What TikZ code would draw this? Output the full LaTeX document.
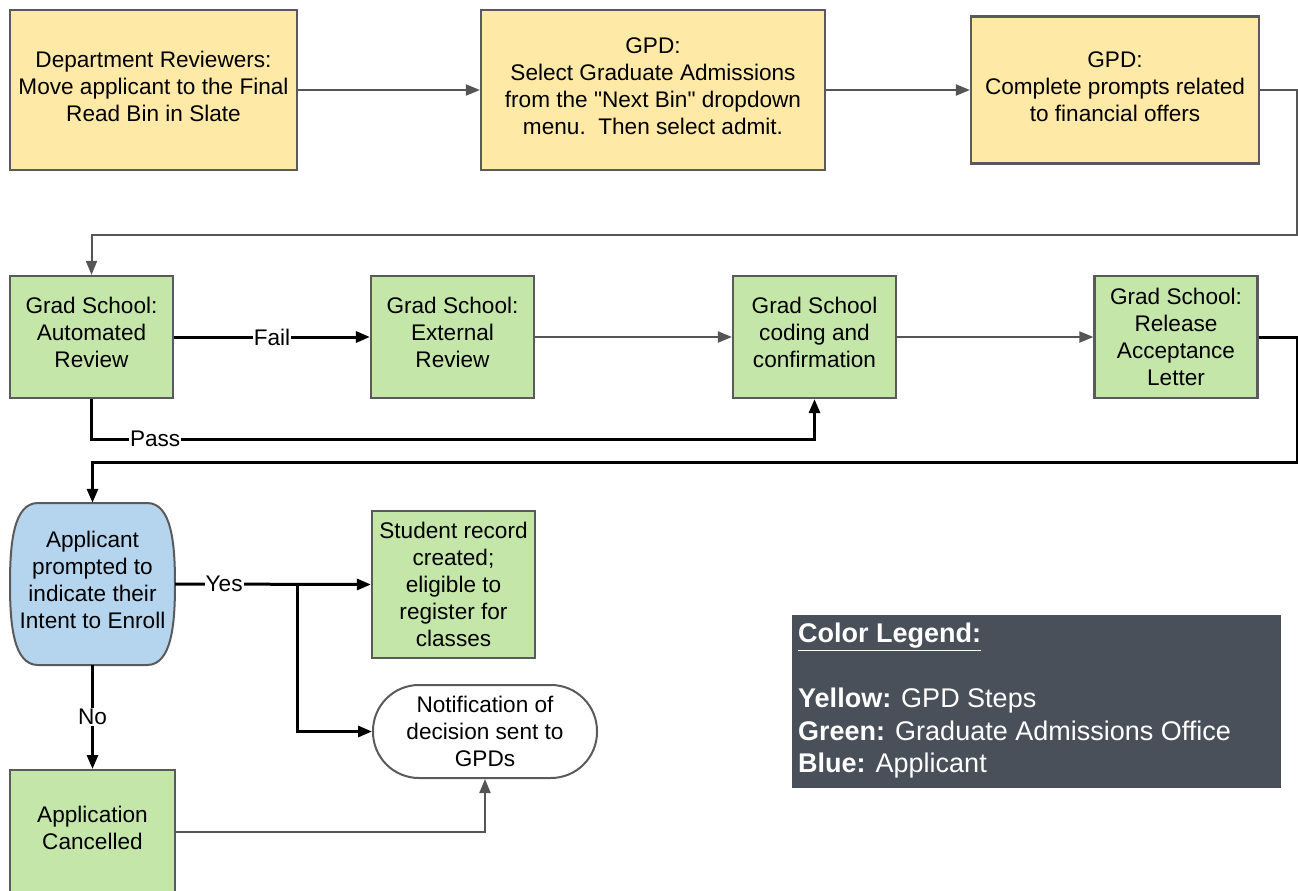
\documentclass[tikz,border=0pt]{standalone}
\usepackage{fontspec}
\setmainfont{Liberation Sans}[Ligatures=TeXOff]
\usetikzlibrary{positioning,arrows.meta,calc}

\definecolor{gpdyellow}{RGB}{255,233,166}
\definecolor{gradgreen}{RGB}{197,230,169}
\definecolor{appblue}{RGB}{181,213,239}
\definecolor{legendgrey}{RGB}{74,80,89}
\definecolor{boxgrey}{RGB}{90,90,90}
\definecolor{linegrey}{RGB}{85,85,85}

\begin{document}
\begin{tikzpicture}[%
    x=1pt, y=-1pt,
    font=\fontsize{22.6pt}{27pt}\selectfont,
    box/.style={draw=boxgrey, line width=2.2pt, align=center, inner sep=0pt},
    gpd/.style={box, fill=gpdyellow, minimum width=287pt, minimum height=160pt, text depth=7pt},
    grad/.style={box, fill=gradgreen, minimum width=163pt, minimum height=122pt},
    lift/.style={text depth=9pt},
    flow/.style={draw=linegrey, line width=2pt, -{Triangle[length=14pt,width=11pt]}},
    heavy/.style={draw=black, line width=3pt, -{Triangle[length=14pt,width=11pt]}},
    lbl/.style={fill=white, inner sep=1pt}]

    \useasboundingbox (0,0) rectangle (1298,891);
    \clip (0,0) rectangle (1298,891);

    % GPD steps
    \node[gpd] (dept) at (153.5,90) {Department Reviewers:\\Move applicant to the Final\\Read Bin in Slate};
    \node[gpd, minimum width=344pt] (select) at (653,90) {GPD:\\Select Graduate Admissions\\from the "Next Bin" dropdown\\menu.\ \ Then select admit.};
    \node[gpd, minimum width=288pt, minimum height=147pt] (offer) at (1115,90) {GPD:\\Complete prompts related\\to financial offers};

    % graduate school
    \node[grad, lift] (auto) at (91.5,337) {Grad School:\\Automated\\Review};
    \node[grad, lift] (ext) at (452.5,337) {Grad School:\\External\\Review};
    \node[grad, lift] (code) at (814.5,337) {Grad School\\coding and\\confirmation};
    \node[grad] (release) at (1176,337) {Grad School:\\Release\\Acceptance\\Letter};

    % applicant
    \draw[draw=boxgrey, line width=2pt, fill=appblue]
        (38,503) -- (147,503) .. controls (172,503) and (175,545) .. (175,584)
        .. controls (175,623) and (172,665) .. (147,665) -- (38,665)
        .. controls (13,665) and (10,623) .. (10,584)
        .. controls (10,545) and (13,503) .. (38,503) -- cycle;
    \node[align=center, inner sep=0pt, minimum width=165pt, minimum height=162pt, lift] (intent) at (92.5,584) {Applicant\\prompted to\\indicate their\\Intent to Enroll};

    \node[grad, minimum height=147pt] (record) at (453.5,584.5) {Student record\\created;\\eligible to\\register for\\classes};
    \node[box, line width=2pt, fill=white, rounded corners=46pt, minimum width=224pt, minimum height=93pt] (notify) at (485,731.5) {Notification of\\decision sent to\\GPDs};

    \node[grad, minimum width=165pt, minimum height=124pt, anchor=north] (cancel) at (92.5,769) {};
    \node[align=center] at ([yshift=4.5pt]cancel.center) {Application\\Cancelled};

    % legend
    \node[fill=legendgrey, minimum width=489pt, minimum height=173pt, anchor=north west] (legend) at (792,615) {};
    \node[anchor=north west, align=left, inner sep=0pt, text=white,
          font=\fontsize{27pt}{32.5pt}\selectfont] (legendtext) at (798,623)
        {\underline{\textbf{Color Legend:}}\\[32.5pt]
         \textbf{Yellow:} GPD Steps\\
         \textbf{Green:} Graduate Admissions Office\\
         \textbf{Blue:} Applicant};

    % connectors
    \draw[flow] (dept) -- (select);
    \draw[flow] (select) -- (offer);
    \draw[flow] (offer.east) -| (1297,235) -| (auto.north);

    \draw[heavy] (auto) -- node[lbl] {Fail} (ext);
    \draw[flow] (ext) -- (code);
    \draw[flow] (code) -- (release);
    \draw[heavy] (auto.south) -- ++(0,40) -| node[lbl, pos=0.044] {Pass} (code.south);

    \draw[heavy] (release.east) -| (1297,462) -| (intent.north);

    \draw[heavy] (intent.east) -- node[lbl, pos=0.25] {Yes} coordinate[pos=0.624] (fork) (record.west);
    \draw[heavy] (fork) |- (notify.west);
    \draw[heavy] (intent.south) -- node[lbl] {No} (cancel.north);
    \draw[flow] (cancel.east) -| (notify.south);

\end{tikzpicture}
\end{document}
